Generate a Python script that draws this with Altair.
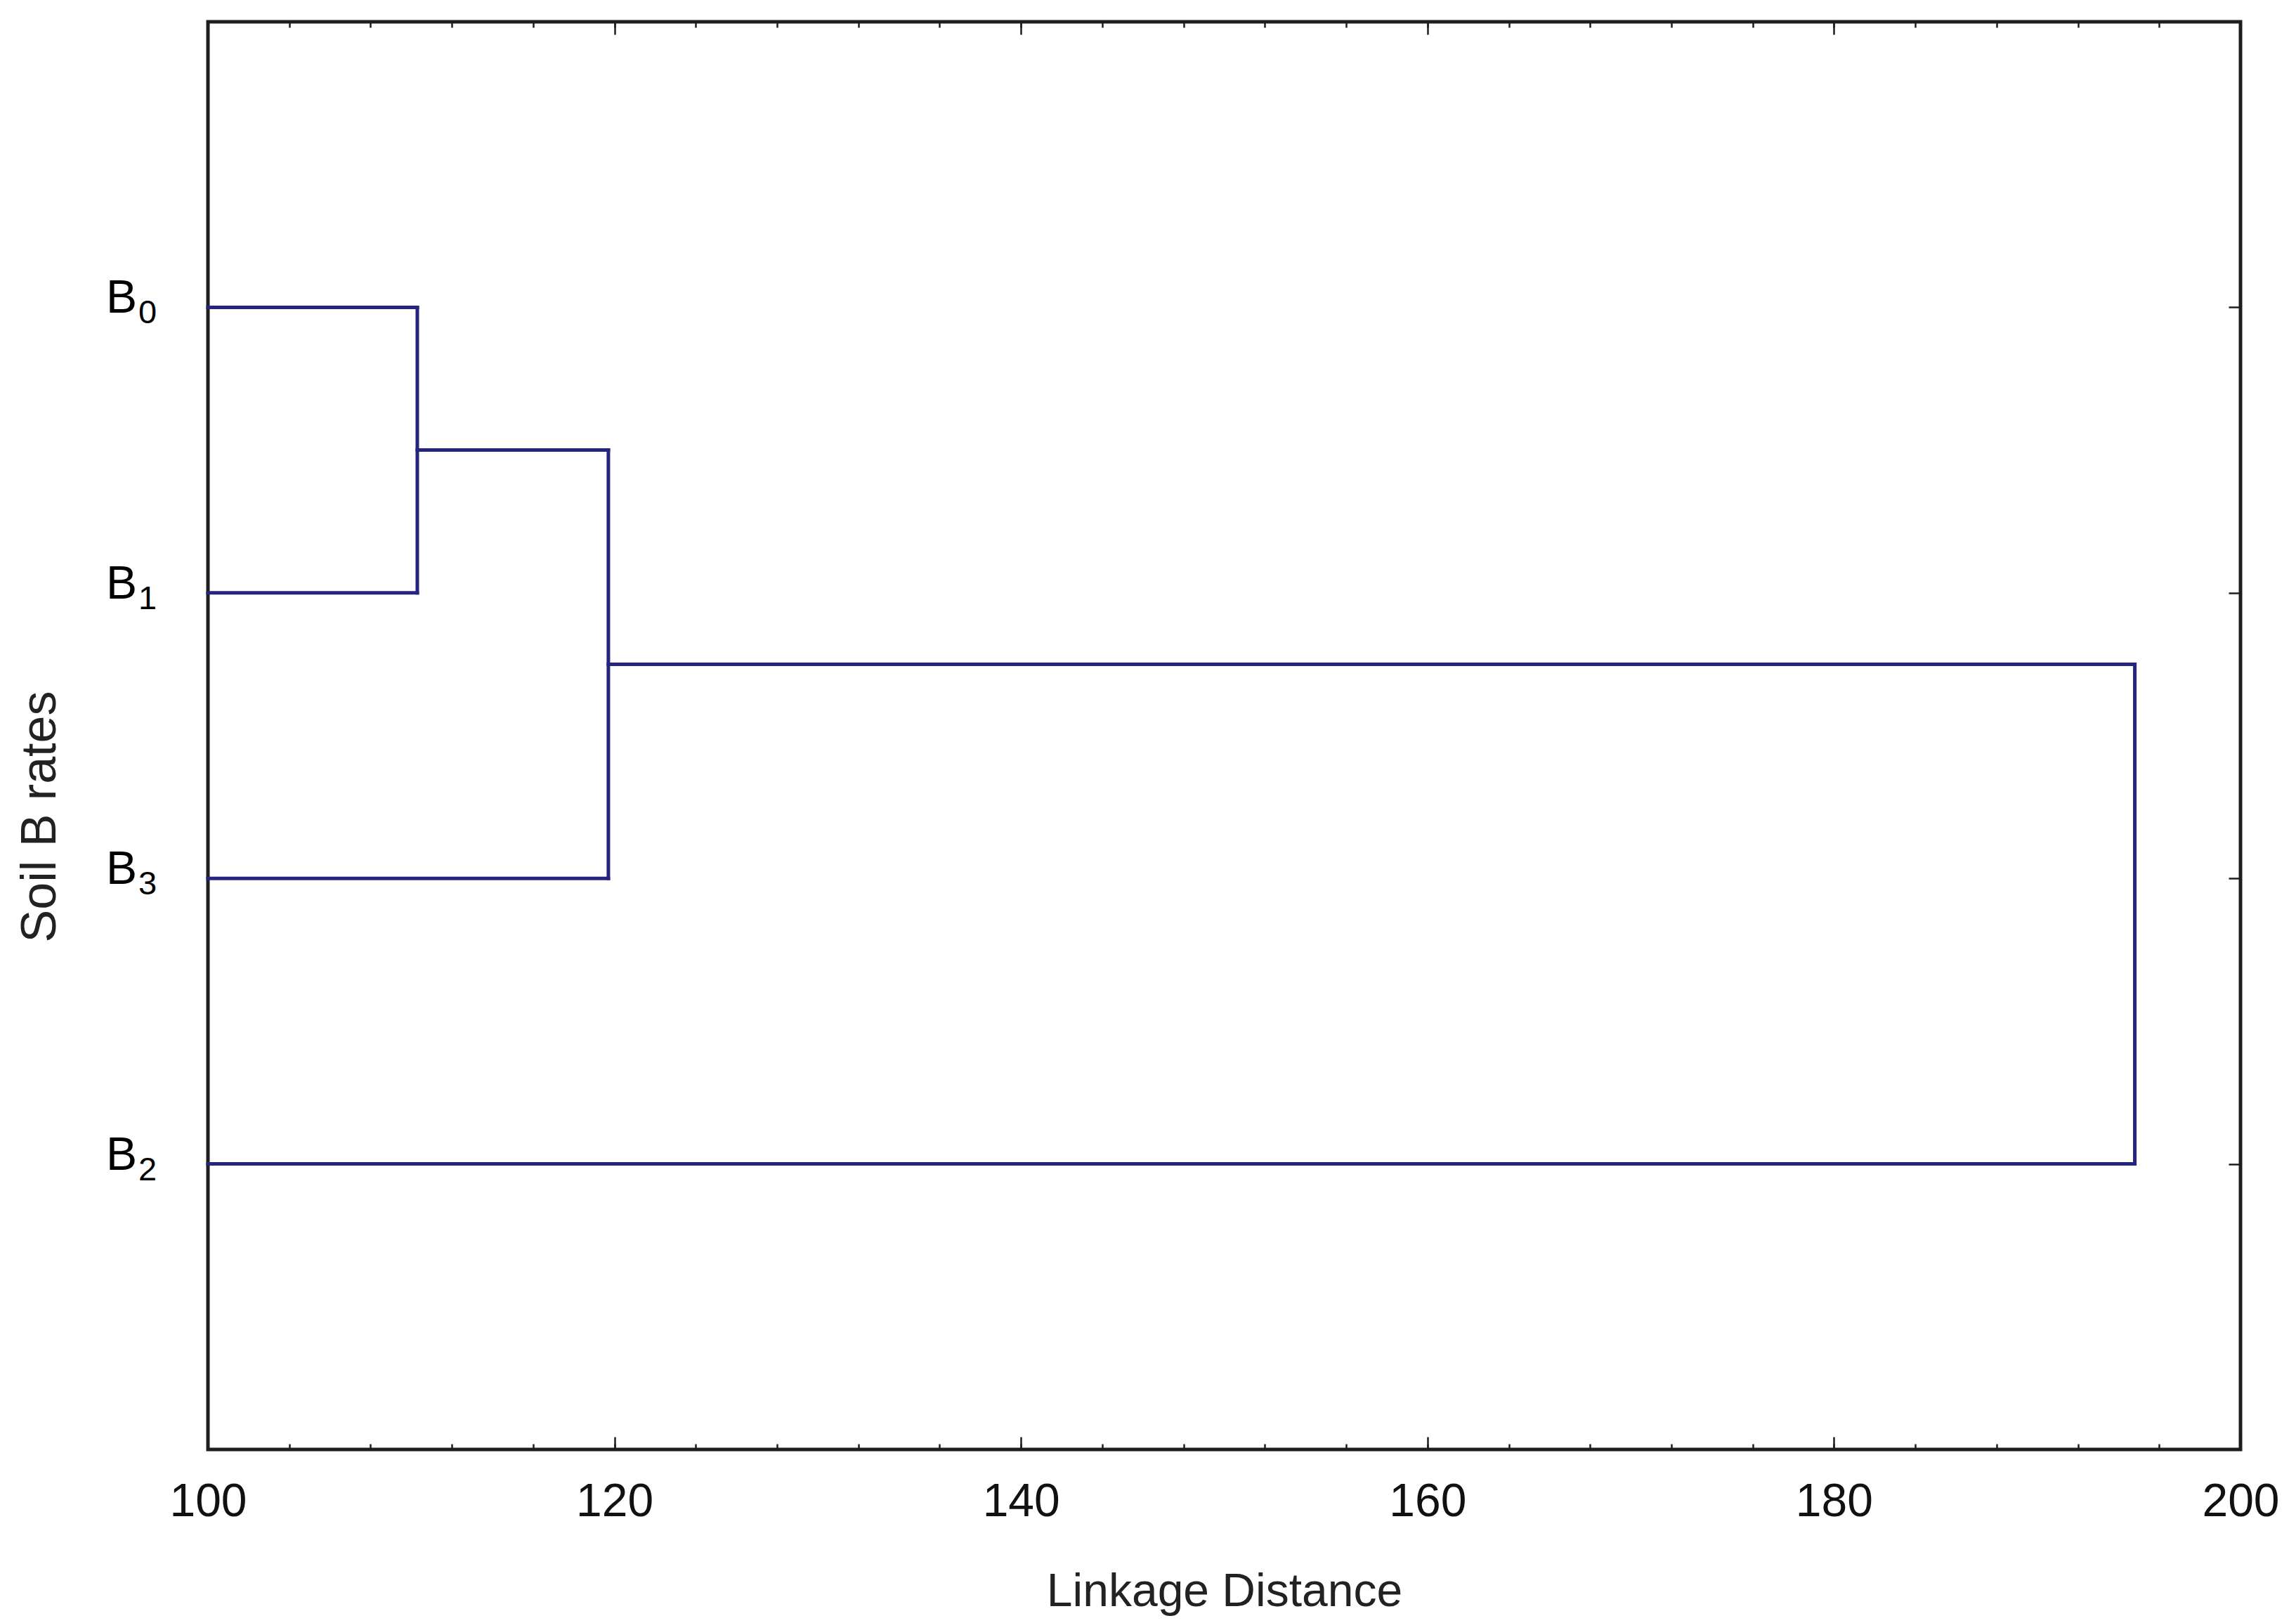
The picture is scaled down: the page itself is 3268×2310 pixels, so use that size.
import altair as alt
import pandas as pd

# ---------------- data ----------------
# leaves, top to bottom
leaf_names = ["B0", "B1", "B3", "B2"]
leaf_base = ["B", "B", "B", "B"]
leaf_sub = ["0", "1", "3", "2"]
leaf_order = [1, 2, 3, 4]

# linkage steps: node joins (left, right) at a linkage distance
merge_name = ["N1", "N2", "N3"]
merge_left = ["B0", "N1", "N2"]
merge_right = ["B1", "B3", "B2"]
merge_dist = [110.3, 119.7, 194.8]

x_domain = [100, 200]
y_domain = [0, 5]
major_ticks = [100, 120, 140, 160, 180, 200]
minor_ticks = [100, 104, 108, 112, 116, 120, 124, 128, 132, 136, 140, 144, 148,
               152, 156, 160, 164, 168, 172, 176, 180, 184, 188, 192, 196, 200]

# ---------------- build dendrogram segments ----------------
pos_x = {n: x_domain[0] for n in leaf_names}
pos_y = {n: p for n, p in zip(leaf_names, leaf_order)}
segs = []
for n, a, b, d in zip(merge_name, merge_left, merge_right, merge_dist):
    segs.append({"x": pos_x[a], "x2": d, "y": pos_y[a], "y2": pos_y[a]})
    segs.append({"x": pos_x[b], "x2": d, "y": pos_y[b], "y2": pos_y[b]})
    segs.append({"x": d, "x2": d, "y": pos_y[a], "y2": pos_y[b]})
    pos_x[n] = d
    pos_y[n] = (pos_y[a] + pos_y[b]) / 2
seg_df = pd.DataFrame(segs)
lab_df = pd.DataFrame({"pos": leaf_order, "base": leaf_base, "sub": leaf_sub})
tick_df = pd.DataFrame({"t": minor_ticks})
leaf_df = pd.DataFrame({"p": leaf_order})

W, H = 2893, 2032
LINE = "#25257f"
FRAME = "#1e1e1e"
SANS = "Liberation Sans, Arial, sans-serif"
NARROW = "Liberation Sans Narrow, Arial Narrow, Liberation Sans, sans-serif"

xs = alt.Scale(domain=x_domain, nice=False, zero=False)
ys = alt.Scale(domain=y_domain, reverse=True, nice=False, zero=False)


def tick_axis_x(orient, values, size):
    return alt.Chart(tick_df).mark_point(opacity=0).encode(
        x=alt.X("t:Q", scale=xs, axis=alt.Axis(
            orient=orient, offset=-H, values=values, tickSize=size,
            tickWidth=2.5, tickColor=FRAME, labels=False, domain=False,
            grid=False, title=None)),
    )


bottom_major = tick_axis_x("top", major_ticks, 18)
bottom_minor = tick_axis_x("top", minor_ticks, 8)
top_major = tick_axis_x("bottom", major_ticks, 18)
top_minor = tick_axis_x("bottom", minor_ticks, 8)

right_ticks = alt.Chart(leaf_df).mark_point(opacity=0).encode(
    y=alt.Y("p:Q", scale=ys, axis=alt.Axis(
        orient="left", offset=-W, values=leaf_order, tickSize=17,
        tickWidth=2.5, tickColor=FRAME, labels=False, domain=False,
        grid=False, title=None)),
)

dendro = alt.Chart(seg_df).mark_rule(
    color=LINE, strokeWidth=5, strokeCap="square"
).encode(
    x=alt.X("x:Q", scale=xs, axis=alt.Axis(
        orient="bottom", values=major_ticks, ticks=False, tickSize=0,
        domain=False, grid=False,
        labelFont=NARROW, labelFontSize=66, labelColor="#111111",
        labelBaseline="alphabetic", labelPadding=94, labelFlush=False,
        labelOverlap=False,
        title="Linkage Distance", titleFont=SANS, titleFontSize=66,
        titleFontWeight="normal", titleColor="#222222",
        titleBaseline="top", titlePadding=63, titleAlign="center")),
    x2="x2:Q",
    y=alt.Y("y:Q", scale=ys, axis=alt.Axis(
        orient="left", labels=False, ticks=False, domain=False, grid=False,
        title="Soil B rates", titleFont=SANS, titleFontSize=70,
        titleFontWeight="normal", titleColor="#222222",
        titleX=-218, titleY=1131, titleAngle=270,
        titleBaseline="alphabetic", titleAlign="center")),
    y2="y2:Q",
)

base_text = alt.Chart(lab_df).mark_text(
    align="right", baseline="alphabetic", dy=8, fontSize=66, font=NARROW,
    color="#000000"
).encode(
    x=alt.value(-101),
    y=alt.Y("pos:Q", scale=ys, axis=None),
    text="base:N",
)

sub_text = alt.Chart(lab_df).mark_text(
    align="left", baseline="alphabetic", dy=23, fontSize=47, font=NARROW,
    color="#000000"
).encode(
    x=alt.value(-99),
    y=alt.Y("pos:Q", scale=ys, axis=None),
    text="sub:N",
)

chart = alt.layer(
    bottom_major, bottom_minor, top_major, top_minor, right_ticks,
    dendro, base_text, sub_text
).resolve_axis(
    x="independent", y="independent"
).properties(
    width=W, height=H,
    autosize=alt.AutoSizeParams(type="none"),
    padding={"left": 288, "top": 23, "right": 60, "bottom": 238},
    background="#ffffff",
).configure_view(
    stroke=FRAME, strokeWidth=5
)

chart.save("out.html", embed_options={"renderer": "svg", "actions": False})
